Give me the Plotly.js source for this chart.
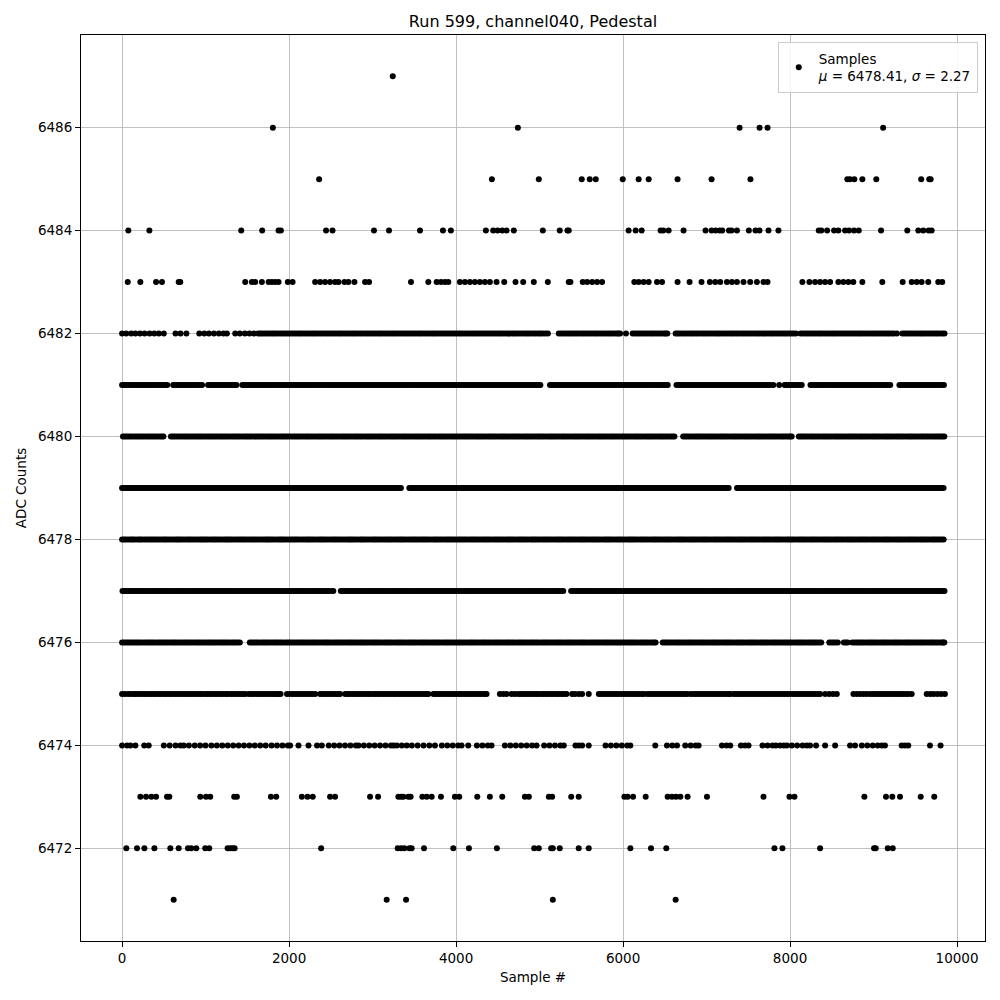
<!DOCTYPE html>
<html>
<head>
<meta charset="utf-8">
<script src="https://cdn.plot.ly/plotly-3.0.1.min.js"></script>
<style>html,body{margin:0;padding:0;background:#fff;}#chart{width:1000px;height:1000px;}</style>
</head>
<body>
<div id="chart"></div>
<script>
// ADC levels and the sample numbers (x) at which each level is seen
const levels = [6471, 6472, 6473, 6474, 6475, 6476, 6477, 6478, 6479, 6480, 6481, 6482, 6483, 6484, 6485, 6486, 6487];

const samples6471 = [618, 3169, 3401, 5159, 6630];
const samples6472 = [51, 179, 267, 387, 578, 678, 789, 829, 889, 996, 1044, 1264, 1295, 1324, 1348, 2384, 3301, 3341, 3381, 3441, 3468, 3616, 3967, 4154, 4489, 4936, 4991, 5139, 5159, 5242, 5469, 5589, 6088, 6335, 6518, 7813, 7909, 8360, 9006, 9026, 9170, 9230];
const samples6473 = [219, 287, 351, 407, 538, 566, 936, 1005, 1056, 1343, 1375, 1782, 1846, 2153, 2221, 2284, 2491, 2551, 2970, 3066, 3309, 3341, 3369, 3429, 3456, 3596, 3648, 3708, 3819, 3986, 4038, 4254, 4405, 4553, 4824, 4872, 5111, 5151, 5379, 5469, 6016, 6055, 6120, 6271, 6534, 6586, 6634, 6686, 6773, 7005, 7682, 7993, 8053, 8890, 9149, 9225, 9317, 9565, 9727];
const samples6474 = [0, 60, 99, 159, 265, 319, 500, 570, 640, 700, 738, 800, 870, 935, 1000, 1070, 1135, 1200, 1265, 1330, 1396, 1460, 1525, 1590, 1655, 1720, 1790, 1855, 1920, 1985, 2013, 2113, 2233, 2335, 2392, 2475, 2540, 2605, 2670, 2735, 2800, 2831, 2895, 2960, 3025, 3090, 3155, 3220, 3250, 3290, 3350, 3409, 3470, 3540, 3610, 3680, 3747, 3830, 3895, 3960, 4025, 4066, 4146, 4250, 4315, 4380, 4425, 4585, 4650, 4715, 4780, 4845, 4910, 4964, 5055, 5120, 5185, 5250, 5290, 5430, 5470, 5510, 5589, 5790, 5855, 5920, 5985, 6050, 6087, 6386, 6526, 6590, 6646, 6745, 6810, 6870, 6905, 7184, 7240, 7284, 7412, 7460, 7503, 7670, 7730, 7790, 7830, 7882, 7925, 7962, 8021, 8085, 8150, 8200, 8240, 8312, 8420, 8540, 8719, 8779, 8860, 8925, 8990, 9050, 9100, 9137, 9337, 9377, 9416, 9676, 9803];
const samples6475 = [0, 33, 70, 104, 140, 165, 198, 231, 262, 290, 323, 351, 384, 412, 445, 473, 506, 534, 567, 595, 628, 656, 689, 717, 750, 778, 811, 839, 872, 900, 933, 961, 994, 1022, 1055, 1083, 1116, 1144, 1177, 1205, 1238, 1266, 1299, 1327, 1360, 1388, 1421, 1449, 1475, 1517, 1549, 1578, 1610, 1639, 1671, 1700, 1732, 1761, 1793, 1822, 1850, 1874, 1898, 1975, 2004, 2036, 2065, 2097, 2126, 2158, 2187, 2219, 2248, 2280, 2312, 2372, 2401, 2433, 2462, 2494, 2523, 2555, 2584, 2611, 2672, 2703, 2731, 2764, 2792, 2825, 2853, 2886, 2914, 2947, 2975, 3008, 3036, 3069, 3097, 3130, 3158, 3191, 3219, 3252, 3280, 3313, 3341, 3374, 3402, 3435, 3463, 3496, 3524, 3557, 3585, 3618, 3646, 3668, 3729, 3758, 3790, 3819, 3851, 3880, 3912, 3941, 3973, 4002, 4034, 4063, 4095, 4124, 4156, 4185, 4217, 4246, 4278, 4307, 4339, 4365, 4525, 4565, 4605, 4665, 4704, 4745, 4776, 4804, 4837, 4865, 4898, 4926, 4959, 4987, 5020, 5048, 5081, 5109, 5142, 5170, 5203, 5231, 5264, 5292, 5322, 5390, 5425, 5470, 5510, 5589, 5710, 5741, 5770, 5802, 5831, 5863, 5892, 5924, 5953, 5985, 6014, 6046, 6075, 6107, 6136, 6168, 6197, 6229, 6247, 6288, 6320, 6349, 6381, 6410, 6442, 6471, 6503, 6532, 6564, 6593, 6625, 6654, 6686, 6715, 6747, 6766, 6806, 6838, 6867, 6899, 6928, 6960, 6989, 7021, 7050, 7082, 7111, 7143, 7172, 7204, 7233, 7265, 7284, 7324, 7355, 7384, 7416, 7445, 7477, 7506, 7538, 7567, 7599, 7628, 7660, 7689, 7721, 7750, 7782, 7811, 7843, 7872, 7904, 7933, 7965, 7994, 8026, 8055, 8087, 8116, 8148, 8177, 8209, 8238, 8270, 8299, 8331, 8360, 8421, 8470, 8515, 8560, 8759, 8800, 8840, 8880, 8918, 8959, 8990, 9022, 9051, 9083, 9112, 9144, 9173, 9205, 9234, 9266, 9295, 9327, 9356, 9388, 9417, 9457, 9637, 9680, 9720, 9765, 9810, 9855];
const samples6476 = [0, 23, 46, 70, 94, 119, 143, 167, 190, 214, 238, 265, 291, 314, 337, 361, 385, 411, 437, 460, 483, 507, 531, 557, 583, 606, 629, 653, 677, 703, 729, 752, 775, 799, 823, 849, 875, 898, 921, 945, 969, 995, 1021, 1044, 1067, 1091, 1115, 1141, 1167, 1190, 1213, 1237, 1261, 1287, 1313, 1336, 1359, 1385, 1410, 1530, 1553, 1576, 1600, 1624, 1650, 1676, 1699, 1722, 1746, 1770, 1796, 1822, 1845, 1868, 1892, 1916, 1942, 1968, 1991, 2014, 2038, 2062, 2088, 2114, 2137, 2160, 2184, 2208, 2234, 2260, 2283, 2306, 2330, 2354, 2380, 2406, 2429, 2452, 2476, 2500, 2526, 2552, 2575, 2598, 2622, 2646, 2672, 2698, 2721, 2744, 2768, 2792, 2818, 2844, 2867, 2890, 2914, 2938, 2964, 2990, 3013, 3036, 3060, 3084, 3110, 3136, 3159, 3182, 3206, 3230, 3256, 3282, 3305, 3328, 3352, 3376, 3402, 3428, 3451, 3474, 3498, 3522, 3548, 3574, 3597, 3620, 3644, 3668, 3694, 3720, 3743, 3766, 3790, 3814, 3840, 3866, 3889, 3912, 3936, 3960, 3986, 4012, 4035, 4058, 4082, 4106, 4132, 4158, 4181, 4204, 4228, 4252, 4278, 4304, 4327, 4350, 4374, 4398, 4424, 4450, 4473, 4496, 4520, 4544, 4570, 4596, 4619, 4642, 4666, 4690, 4716, 4742, 4765, 4788, 4812, 4836, 4862, 4888, 4911, 4934, 4958, 4982, 5008, 5034, 5057, 5080, 5104, 5128, 5154, 5180, 5203, 5226, 5250, 5274, 5300, 5326, 5349, 5372, 5396, 5420, 5446, 5472, 5495, 5518, 5542, 5566, 5592, 5618, 5641, 5664, 5688, 5712, 5738, 5764, 5787, 5810, 5834, 5858, 5884, 5910, 5933, 5956, 5980, 6004, 6030, 6056, 6079, 6102, 6126, 6150, 6176, 6202, 6225, 6248, 6272, 6296, 6322, 6348, 6370, 6390, 6475, 6498, 6521, 6545, 6569, 6595, 6621, 6644, 6667, 6691, 6715, 6741, 6767, 6790, 6813, 6837, 6861, 6887, 6913, 6936, 6959, 6983, 7007, 7033, 7059, 7082, 7105, 7129, 7153, 7179, 7205, 7228, 7251, 7275, 7299, 7325, 7351, 7374, 7397, 7421, 7445, 7471, 7497, 7520, 7543, 7567, 7591, 7617, 7643, 7666, 7689, 7713, 7737, 7763, 7789, 7812, 7835, 7859, 7883, 7909, 7935, 7958, 7981, 8005, 8029, 8055, 8081, 8104, 8127, 8151, 8175, 8201, 8227, 8250, 8273, 8297, 8321, 8347, 8373, 8470, 8495, 8520, 8546, 8572, 8645, 8668, 8690, 8745, 8771, 8798, 8821, 8844, 8868, 8892, 8918, 8944, 8967, 8990, 9014, 9038, 9064, 9090, 9113, 9136, 9160, 9184, 9210, 9236, 9259, 9282, 9306, 9330, 9356, 9382, 9405, 9428, 9452, 9476, 9502, 9528, 9551, 9574, 9598, 9622, 9648, 9674, 9697, 9720, 9744, 9768, 9794, 9820, 9834, 9848];
const samples6477 = [5, 28, 52, 76, 100, 125, 149, 176, 203, 226, 249, 273, 297, 325, 352, 375, 398, 422, 445, 473, 500, 523, 546, 570, 594, 621, 648, 671, 694, 718, 742, 769, 796, 819, 842, 866, 890, 917, 944, 967, 990, 1014, 1038, 1065, 1092, 1115, 1138, 1162, 1186, 1213, 1240, 1263, 1286, 1310, 1334, 1361, 1388, 1411, 1434, 1458, 1482, 1509, 1536, 1559, 1582, 1606, 1630, 1657, 1684, 1707, 1730, 1754, 1778, 1805, 1832, 1855, 1878, 1902, 1926, 1953, 1980, 2003, 2026, 2050, 2074, 2101, 2128, 2151, 2174, 2198, 2222, 2249, 2276, 2299, 2322, 2346, 2370, 2397, 2424, 2447, 2470, 2500, 2530, 2620, 2643, 2666, 2690, 2714, 2741, 2768, 2791, 2814, 2838, 2862, 2889, 2916, 2939, 2962, 2986, 3010, 3037, 3064, 3087, 3110, 3134, 3158, 3185, 3212, 3235, 3258, 3282, 3306, 3333, 3360, 3383, 3406, 3430, 3454, 3481, 3508, 3531, 3554, 3578, 3602, 3629, 3656, 3679, 3702, 3726, 3750, 3777, 3804, 3827, 3850, 3874, 3898, 3925, 3952, 3975, 3998, 4022, 4046, 4073, 4100, 4123, 4146, 4170, 4194, 4221, 4248, 4271, 4294, 4318, 4342, 4369, 4396, 4419, 4442, 4466, 4490, 4517, 4544, 4567, 4590, 4614, 4638, 4665, 4692, 4715, 4738, 4762, 4786, 4813, 4840, 4863, 4886, 4910, 4934, 4961, 4988, 5011, 5034, 5058, 5082, 5109, 5136, 5159, 5182, 5206, 5230, 5257, 5284, 5378, 5405, 5432, 5455, 5478, 5502, 5526, 5553, 5580, 5603, 5626, 5650, 5674, 5701, 5728, 5751, 5774, 5798, 5822, 5849, 5876, 5899, 5922, 5946, 5970, 5997, 6024, 6047, 6070, 6094, 6118, 6145, 6172, 6195, 6218, 6242, 6266, 6293, 6320, 6343, 6366, 6390, 6414, 6441, 6468, 6491, 6514, 6538, 6562, 6589, 6616, 6639, 6662, 6686, 6710, 6737, 6764, 6787, 6810, 6834, 6858, 6885, 6912, 6935, 6958, 6982, 7006, 7033, 7060, 7083, 7106, 7130, 7154, 7181, 7208, 7231, 7254, 7278, 7302, 7329, 7356, 7379, 7402, 7426, 7450, 7477, 7504, 7527, 7550, 7574, 7598, 7625, 7652, 7675, 7698, 7722, 7746, 7773, 7800, 7823, 7846, 7870, 7894, 7921, 7948, 7971, 7994, 8018, 8042, 8069, 8096, 8119, 8142, 8166, 8190, 8217, 8244, 8267, 8290, 8314, 8338, 8365, 8392, 8415, 8438, 8462, 8486, 8513, 8540, 8563, 8586, 8610, 8634, 8661, 8688, 8711, 8734, 8758, 8782, 8809, 8836, 8859, 8882, 8906, 8930, 8957, 8984, 9007, 9030, 9054, 9078, 9105, 9132, 9155, 9178, 9202, 9226, 9253, 9280, 9303, 9326, 9350, 9374, 9401, 9428, 9451, 9474, 9498, 9522, 9549, 9576, 9599, 9622, 9646, 9670, 9697, 9724, 9747, 9770, 9794, 9818, 9835, 9850];
const samples6478 = [0, 24, 45, 71, 98, 120, 140, 167, 195, 216, 238, 265, 290, 316, 341, 364, 388, 412, 437, 463, 490, 511, 533, 560, 586, 613, 640, 662, 684, 707, 731, 758, 785, 807, 830, 856, 882, 909, 935, 957, 979, 1003, 1027, 1054, 1080, 1103, 1126, 1150, 1175, 1202, 1230, 1251, 1273, 1296, 1320, 1347, 1374, 1398, 1422, 1445, 1468, 1494, 1521, 1546, 1570, 1592, 1615, 1641, 1668, 1694, 1720, 1741, 1762, 1786, 1810, 1838, 1866, 1889, 1911, 1934, 1958, 1985, 2012, 2036, 2060, 2082, 2105, 2131, 2158, 2184, 2210, 2232, 2254, 2278, 2302, 2330, 2357, 2379, 2401, 2425, 2450, 2476, 2503, 2527, 2550, 2573, 2597, 2623, 2650, 2676, 2701, 2723, 2745, 2769, 2793, 2821, 2848, 2870, 2893, 2917, 2942, 2968, 2995, 3018, 3040, 3064, 3088, 3114, 3141, 3166, 3190, 3213, 3236, 3262, 3288, 3312, 3335, 3357, 3380, 3406, 3433, 3458, 3482, 3505, 3528, 3554, 3580, 3602, 3625, 3649, 3673, 3700, 3727, 3750, 3772, 3796, 3820, 3847, 3874, 3897, 3920, 3943, 3966, 3992, 4018, 4041, 4065, 4088, 4112, 4138, 4165, 4188, 4211, 4234, 4258, 4284, 4310, 4333, 4357, 4380, 4403, 4430, 4456, 4479, 4502, 4526, 4550, 4576, 4602, 4625, 4648, 4671, 4695, 4721, 4748, 4770, 4793, 4817, 4841, 4868, 4895, 4917, 4940, 4963, 4987, 5013, 5040, 5062, 5085, 5109, 5133, 5159, 5186, 5209, 5232, 5255, 5278, 5304, 5331, 5354, 5377, 5401, 5425, 5451, 5478, 5500, 5523, 5546, 5570, 5596, 5622, 5645, 5668, 5692, 5716, 5743, 5770, 5792, 5815, 5838, 5862, 5888, 5914, 5937, 5960, 5984, 6008, 6034, 6061, 6083, 6106, 6129, 6153, 6179, 6205, 6228, 6252, 6276, 6300, 6326, 6353, 6375, 6398, 6421, 6445, 6471, 6497, 6520, 6543, 6566, 6590, 6617, 6644, 6667, 6690, 6713, 6736, 6762, 6789, 6812, 6835, 6858, 6882, 6908, 6934, 6957, 6980, 7003, 7027, 7053, 7080, 7103, 7126, 7149, 7173, 7199, 7225, 7248, 7271, 7295, 7319, 7345, 7372, 7394, 7417, 7440, 7464, 7490, 7516, 7539, 7563, 7586, 7610, 7636, 7663, 7686, 7709, 7732, 7756, 7782, 7808, 7830, 7853, 7877, 7901, 7928, 7955, 7977, 8000, 8023, 8047, 8073, 8100, 8123, 8146, 8169, 8193, 8219, 8245, 8268, 8291, 8314, 8338, 8364, 8391, 8414, 8437, 8460, 8484, 8510, 8536, 8559, 8582, 8606, 8630, 8656, 8682, 8705, 8728, 8751, 8775, 8801, 8827, 8850, 8873, 8896, 8920, 8946, 8973, 8995, 9018, 9042, 9066, 9092, 9118, 9141, 9164, 9187, 9211, 9237, 9263, 9286, 9310, 9333, 9357, 9383, 9409, 9432, 9455, 9478, 9502, 9528, 9554, 9577, 9600, 9624, 9648, 9674, 9700, 9722, 9745, 9768, 9792, 9816, 9840];
const samples6479 = [0, 21, 40, 66, 92, 115, 138, 161, 185, 210, 236, 259, 282, 306, 330, 357, 383, 405, 428, 451, 475, 501, 527, 550, 573, 597, 621, 647, 673, 696, 719, 742, 766, 792, 818, 841, 864, 888, 912, 938, 964, 987, 1010, 1033, 1057, 1083, 1109, 1132, 1155, 1179, 1203, 1229, 1255, 1278, 1301, 1324, 1348, 1374, 1400, 1423, 1446, 1470, 1494, 1520, 1546, 1569, 1592, 1615, 1639, 1665, 1691, 1714, 1737, 1761, 1785, 1811, 1837, 1860, 1883, 1906, 1930, 1956, 1982, 2005, 2028, 2052, 2076, 2102, 2128, 2151, 2174, 2197, 2221, 2247, 2273, 2296, 2319, 2343, 2367, 2393, 2419, 2442, 2465, 2488, 2512, 2538, 2564, 2587, 2610, 2634, 2658, 2684, 2710, 2733, 2756, 2779, 2803, 2829, 2855, 2878, 2901, 2925, 2949, 2975, 3001, 3024, 3047, 3070, 3094, 3120, 3146, 3169, 3192, 3216, 3240, 3266, 3292, 3316, 3340, 3440, 3463, 3486, 3509, 3533, 3559, 3585, 3608, 3631, 3655, 3679, 3705, 3731, 3754, 3777, 3800, 3824, 3850, 3876, 3899, 3922, 3946, 3970, 3996, 4022, 4045, 4068, 4091, 4115, 4141, 4167, 4190, 4213, 4237, 4261, 4287, 4313, 4336, 4359, 4382, 4406, 4432, 4458, 4481, 4504, 4528, 4552, 4578, 4604, 4627, 4650, 4673, 4697, 4723, 4749, 4772, 4795, 4819, 4843, 4869, 4895, 4918, 4941, 4964, 4988, 5014, 5040, 5063, 5086, 5110, 5134, 5160, 5186, 5209, 5232, 5255, 5279, 5305, 5331, 5354, 5377, 5401, 5425, 5451, 5477, 5500, 5523, 5546, 5570, 5596, 5622, 5645, 5668, 5692, 5716, 5742, 5768, 5791, 5814, 5837, 5861, 5887, 5913, 5936, 5959, 5983, 6007, 6033, 6059, 6082, 6105, 6128, 6152, 6178, 6204, 6227, 6250, 6274, 6298, 6324, 6350, 6373, 6396, 6419, 6443, 6469, 6495, 6518, 6541, 6565, 6589, 6615, 6641, 6664, 6687, 6710, 6734, 6760, 6786, 6809, 6832, 6856, 6880, 6906, 6932, 6955, 6978, 7001, 7025, 7051, 7077, 7100, 7123, 7147, 7171, 7197, 7223, 7245, 7265, 7365, 7388, 7411, 7435, 7459, 7485, 7511, 7534, 7557, 7580, 7604, 7630, 7656, 7679, 7702, 7726, 7750, 7776, 7802, 7825, 7848, 7871, 7895, 7921, 7947, 7970, 7993, 8017, 8041, 8067, 8093, 8116, 8139, 8162, 8186, 8212, 8238, 8261, 8284, 8308, 8332, 8358, 8384, 8407, 8430, 8453, 8477, 8503, 8529, 8552, 8575, 8599, 8623, 8649, 8675, 8698, 8721, 8744, 8768, 8794, 8820, 8843, 8866, 8890, 8914, 8940, 8966, 8989, 9012, 9035, 9059, 9085, 9111, 9134, 9157, 9181, 9205, 9231, 9257, 9280, 9303, 9326, 9350, 9376, 9402, 9425, 9448, 9472, 9496, 9522, 9548, 9571, 9594, 9617, 9641, 9667, 9693, 9716, 9739, 9763, 9787, 9813, 9839];
const samples6480 = [10, 32, 55, 80, 104, 130, 156, 180, 204, 228, 252, 279, 305, 328, 352, 376, 400, 426, 452, 474, 495, 585, 608, 630, 655, 680, 706, 731, 755, 778, 802, 826, 852, 877, 901, 924, 948, 972, 998, 1023, 1047, 1070, 1094, 1118, 1144, 1170, 1193, 1216, 1240, 1264, 1290, 1316, 1339, 1362, 1386, 1410, 1436, 1462, 1485, 1508, 1532, 1556, 1582, 1608, 1631, 1654, 1678, 1702, 1728, 1754, 1777, 1800, 1824, 1848, 1874, 1900, 1923, 1946, 1970, 1994, 2020, 2046, 2069, 2092, 2116, 2140, 2166, 2192, 2215, 2238, 2262, 2286, 2312, 2338, 2361, 2384, 2408, 2432, 2458, 2484, 2507, 2530, 2554, 2578, 2604, 2630, 2653, 2676, 2700, 2724, 2750, 2776, 2799, 2822, 2846, 2870, 2896, 2922, 2945, 2968, 2992, 3016, 3042, 3068, 3091, 3114, 3138, 3162, 3188, 3214, 3237, 3260, 3284, 3308, 3334, 3360, 3383, 3406, 3430, 3454, 3480, 3506, 3529, 3552, 3576, 3600, 3626, 3652, 3675, 3698, 3722, 3746, 3772, 3798, 3821, 3844, 3868, 3892, 3918, 3944, 3967, 3990, 4014, 4038, 4064, 4090, 4113, 4136, 4160, 4184, 4210, 4236, 4259, 4282, 4306, 4330, 4356, 4382, 4405, 4428, 4452, 4476, 4502, 4528, 4551, 4574, 4598, 4622, 4648, 4674, 4697, 4720, 4744, 4768, 4794, 4820, 4843, 4866, 4890, 4914, 4940, 4966, 4989, 5012, 5036, 5060, 5086, 5112, 5135, 5158, 5182, 5206, 5232, 5258, 5281, 5304, 5328, 5352, 5378, 5404, 5427, 5450, 5474, 5498, 5524, 5550, 5573, 5596, 5620, 5644, 5670, 5696, 5719, 5742, 5766, 5790, 5816, 5842, 5865, 5888, 5912, 5936, 5962, 5988, 6011, 6034, 6058, 6082, 6108, 6134, 6157, 6180, 6204, 6228, 6254, 6280, 6303, 6326, 6350, 6374, 6400, 6426, 6449, 6472, 6496, 6520, 6546, 6572, 6594, 6615, 6720, 6743, 6766, 6790, 6814, 6840, 6866, 6889, 6912, 6936, 6960, 6986, 7012, 7035, 7058, 7082, 7106, 7132, 7158, 7181, 7204, 7228, 7252, 7278, 7304, 7327, 7350, 7374, 7398, 7424, 7450, 7473, 7496, 7520, 7544, 7570, 7596, 7619, 7642, 7666, 7690, 7716, 7742, 7765, 7788, 7812, 7836, 7862, 7888, 7911, 7934, 7958, 7982, 8001, 8020, 8105, 8128, 8150, 8174, 8198, 8224, 8250, 8273, 8296, 8320, 8344, 8370, 8396, 8419, 8442, 8466, 8490, 8516, 8542, 8565, 8588, 8612, 8636, 8662, 8688, 8711, 8734, 8758, 8782, 8808, 8834, 8857, 8880, 8904, 8928, 8954, 8980, 9003, 9026, 9050, 9074, 9100, 9126, 9149, 9172, 9196, 9220, 9246, 9272, 9295, 9318, 9342, 9366, 9392, 9418, 9441, 9464, 9488, 9512, 9538, 9564, 9587, 9610, 9634, 9658, 9684, 9710, 9733, 9756, 9780, 9804, 9826, 9848];
const samples6481 = [0, 24, 48, 72, 95, 122, 150, 174, 197, 220, 243, 272, 301, 324, 346, 369, 392, 420, 447, 471, 495, 518, 540, 612, 636, 660, 684, 708, 735, 762, 786, 810, 833, 856, 883, 910, 934, 958, 1030, 1054, 1077, 1100, 1124, 1151, 1178, 1202, 1225, 1248, 1272, 1299, 1326, 1348, 1370, 1440, 1465, 1490, 1513, 1536, 1562, 1588, 1612, 1635, 1660, 1684, 1711, 1737, 1760, 1782, 1806, 1829, 1856, 1883, 1907, 1930, 1954, 1977, 2003, 2029, 2053, 2076, 2100, 2124, 2151, 2177, 2200, 2223, 2247, 2270, 2297, 2324, 2347, 2370, 2394, 2417, 2444, 2470, 2494, 2517, 2541, 2564, 2591, 2617, 2640, 2663, 2687, 2711, 2738, 2764, 2787, 2810, 2834, 2857, 2884, 2910, 2933, 2956, 2980, 3004, 3031, 3057, 3080, 3103, 3127, 3150, 3177, 3203, 3227, 3250, 3274, 3297, 3324, 3350, 3373, 3396, 3420, 3443, 3470, 3497, 3520, 3543, 3567, 3590, 3617, 3643, 3667, 3690, 3714, 3737, 3764, 3790, 3813, 3836, 3860, 3883, 3910, 3936, 3960, 3983, 4007, 4030, 4057, 4083, 4106, 4129, 4153, 4176, 4203, 4229, 4253, 4276, 4300, 4323, 4350, 4376, 4399, 4422, 4446, 4469, 4496, 4523, 4546, 4569, 4593, 4616, 4643, 4669, 4692, 4715, 4739, 4762, 4789, 4816, 4839, 4862, 4886, 4909, 4936, 4962, 4986, 5010, 5125, 5148, 5172, 5198, 5224, 5248, 5271, 5295, 5318, 5345, 5371, 5394, 5417, 5441, 5464, 5491, 5518, 5541, 5564, 5588, 5611, 5638, 5664, 5687, 5710, 5734, 5757, 5784, 5811, 5834, 5857, 5881, 5904, 5931, 5957, 5980, 6003, 6027, 6050, 6077, 6104, 6127, 6150, 6174, 6197, 6224, 6250, 6273, 6296, 6320, 6343, 6370, 6397, 6420, 6443, 6467, 6490, 6513, 6535, 6640, 6664, 6688, 6715, 6741, 6764, 6787, 6811, 6834, 6861, 6887, 6911, 6934, 6958, 6981, 7008, 7034, 7057, 7080, 7104, 7127, 7154, 7180, 7204, 7227, 7251, 7274, 7301, 7327, 7350, 7373, 7397, 7420, 7447, 7473, 7497, 7520, 7544, 7567, 7594, 7620, 7643, 7666, 7690, 7713, 7740, 7766, 7800, 7870, 7935, 7959, 7982, 8009, 8035, 8059, 8082, 8111, 8140, 8245, 8269, 8292, 8319, 8345, 8369, 8392, 8415, 8438, 8465, 8492, 8515, 8538, 8562, 8585, 8612, 8638, 8662, 8685, 8709, 8732, 8759, 8785, 8808, 8831, 8855, 8878, 8905, 8931, 8955, 8978, 9002, 9025, 9052, 9078, 9101, 9124, 9148, 9171, 9200, 9310, 9333, 9356, 9380, 9403, 9427, 9450, 9477, 9503, 9527, 9550, 9574, 9597, 9624, 9650, 9674, 9697, 9720, 9743, 9770, 9796, 9820, 9843];
const samples6482 = [0, 50, 110, 160, 215, 270, 330, 385, 440, 500, 640, 700, 770, 925, 985, 1040, 1100, 1160, 1215, 1255, 1355, 1410, 1470, 1525, 1578, 1630, 1655, 1680, 1708, 1735, 1762, 1790, 1815, 1840, 1868, 1895, 1922, 1950, 1975, 2000, 2028, 2055, 2082, 2110, 2135, 2160, 2188, 2215, 2242, 2270, 2295, 2320, 2348, 2375, 2402, 2430, 2455, 2480, 2508, 2535, 2562, 2590, 2615, 2640, 2668, 2695, 2722, 2750, 2775, 2800, 2828, 2855, 2882, 2910, 2935, 2960, 2988, 3015, 3042, 3070, 3095, 3120, 3148, 3175, 3202, 3230, 3255, 3280, 3308, 3335, 3362, 3390, 3415, 3440, 3468, 3495, 3522, 3550, 3575, 3600, 3628, 3655, 3682, 3710, 3735, 3760, 3788, 3815, 3842, 3870, 3895, 3920, 3948, 3975, 4002, 4030, 4055, 4080, 4108, 4135, 4162, 4190, 4215, 4240, 4268, 4295, 4322, 4350, 4375, 4400, 4428, 4455, 4482, 4510, 4535, 4560, 4588, 4615, 4642, 4670, 4695, 4720, 4748, 4775, 4802, 4830, 4855, 4880, 4908, 4935, 4962, 4990, 5015, 5040, 5070, 5100, 5230, 5258, 5285, 5312, 5340, 5365, 5390, 5418, 5445, 5472, 5500, 5525, 5550, 5578, 5605, 5632, 5660, 5685, 5710, 5738, 5765, 5792, 5820, 5845, 5870, 5898, 5925, 5945, 5965, 6035, 6115, 6142, 6170, 6195, 6220, 6248, 6275, 6302, 6330, 6355, 6380, 6408, 6435, 6462, 6490, 6510, 6530, 6630, 6655, 6680, 6708, 6735, 6762, 6790, 6815, 6840, 6868, 6895, 6922, 6950, 6975, 7000, 7028, 7055, 7082, 7110, 7135, 7160, 7188, 7215, 7242, 7270, 7295, 7320, 7348, 7375, 7402, 7430, 7455, 7480, 7508, 7535, 7562, 7590, 7615, 7640, 7668, 7695, 7722, 7750, 7775, 7800, 7828, 7855, 7882, 7910, 7935, 7960, 7988, 8015, 8042, 8070, 8125, 8152, 8180, 8205, 8230, 8258, 8285, 8312, 8340, 8365, 8390, 8418, 8445, 8472, 8500, 8525, 8550, 8578, 8605, 8632, 8660, 8685, 8710, 8738, 8765, 8792, 8820, 8845, 8870, 8898, 8925, 8952, 8980, 9005, 9030, 9058, 9085, 9112, 9140, 9165, 9190, 9218, 9245, 9280, 9345, 9372, 9400, 9425, 9450, 9478, 9505, 9532, 9560, 9585, 9610, 9638, 9665, 9692, 9720, 9745, 9770, 9798, 9825, 9850];
const samples6483 = [68, 219, 407, 478, 678, 697, 1475, 1555, 1594, 1674, 1755, 1794, 1833, 1874, 1985, 2042, 2312, 2372, 2431, 2491, 2551, 2592, 2663, 2711, 2783, 2910, 2958, 3460, 3668, 3767, 3819, 3867, 3907, 4046, 4106, 4166, 4225, 4285, 4345, 4405, 4485, 4577, 4712, 4804, 4931, 5099, 5350, 5370, 5517, 5570, 5630, 5689, 5749, 6135, 6187, 6247, 6307, 6407, 6467, 6653, 6797, 6940, 7040, 7104, 7164, 7244, 7304, 7364, 7443, 7523, 7603, 7682, 7730, 8148, 8232, 8300, 8360, 8420, 8480, 8579, 8639, 8699, 8758, 8866, 9105, 9349, 9457, 9517, 9576, 9655, 9775, 9823];
const samples6484 = [75, 327, 1427, 1678, 1874, 1902, 2443, 2520, 3017, 3197, 3568, 3843, 3938, 4357, 4445, 4497, 4553, 4605, 4692, 5039, 5242, 5334, 5350, 6067, 6151, 6223, 6450, 6482, 6546, 6725, 6988, 7060, 7108, 7156, 7188, 7268, 7299, 7364, 7507, 7586, 7634, 7742, 7861, 8344, 8375, 8444, 8527, 8579, 8659, 8707, 8767, 8823, 9090, 9404, 9536, 9596, 9660, 9696];
const samples6485 = [2360, 4429, 4991, 5505, 5601, 5673, 5996, 6187, 6307, 6653, 7060, 7526, 8686, 8718, 8770, 8866, 9033, 9571, 9667, 9684];
const samples6486 = [1806, 4740, 7396, 7635, 7731, 9115];
const samples6487 = [3242];

const samplesByLevel = [samples6471, samples6472, samples6473, samples6474, samples6475, samples6476, samples6477, samples6478, samples6479, samples6480, samples6481, samples6482, samples6483, samples6484, samples6485, samples6486, samples6487];

const titleText = 'Run 599, channel040, Pedestal';
const legendText = 'Samples<br><i>μ</i> = 6478.41, <i>σ</i> = 2.27';
const yTicks = [6472, 6474, 6476, 6478, 6480, 6482, 6484, 6486];
const xTicks = [0, 2000, 4000, 6000, 8000, 10000];

const xs = [], ys = [];
samplesByLevel.forEach((arr, i) => {
  arr.forEach(s => { xs.push(s); ys.push(levels[i]); });
});

const font = 'DejaVu Sans, sans-serif';

const trace = {
  type: 'scatter',
  mode: 'markers',
  x: xs,
  y: ys,
  name: legendText,
  marker: {color: '#000000', size: 6, line: {width: 0}},
  showlegend: true,
  hoverinfo: 'x+y'
};

const axisCommon = {
  showline: true, mirror: true, linecolor: '#000', linewidth: 1,
  ticks: 'outside', ticklen: 5, tickwidth: 1, tickcolor: '#000',
  showgrid: true, gridcolor: '#b0b0b0', gridwidth: 0.8,
  zeroline: false, tickformat: 'd',
  tickfont: {family: font, size: 13.5, color: '#000'},
  automargin: false
};

const layout = {
  width: 1000, height: 1000,
  margin: {l: 81, r: 15, t: 35, b: 59},
  paper_bgcolor: '#fff', plot_bgcolor: '#fff',
  font: {family: font, color: '#000'},
  title: {text: titleText, font: {family: font, size: 16, color: '#000'}, x: 0.533, xanchor: 'center', y: 0.979, yanchor: 'middle'},
  xaxis: Object.assign({}, axisCommon, {
    range: [-492, 10335], tickmode: 'array', tickvals: xTicks,
    title: {text: 'Sample #', font: {family: font, size: 13.5, color: '#000'}, standoff: 7}
  }),
  yaxis: Object.assign({}, axisCommon, {
    range: [6470.2, 6487.8], tickmode: 'array', tickvals: yTicks,
    title: {text: 'ADC Counts', font: {family: font, size: 13.5, color: '#000'}, standoff: 8}
  }),
  legend: {
    x: 0.992, xanchor: 'right', y: 0.992, yanchor: 'top',
    bgcolor: 'rgba(255,255,255,0.85)', bordercolor: '#cccccc', borderwidth: 1,
    font: {family: font, size: 13.5, color: '#000'},
    itemwidth: 30, valign: 'middle'
  },
  showlegend: true
};

Plotly.newPlot('chart', [trace], layout, {displayModeBar: false, staticPlot: true});
</script>
</body>
</html>
